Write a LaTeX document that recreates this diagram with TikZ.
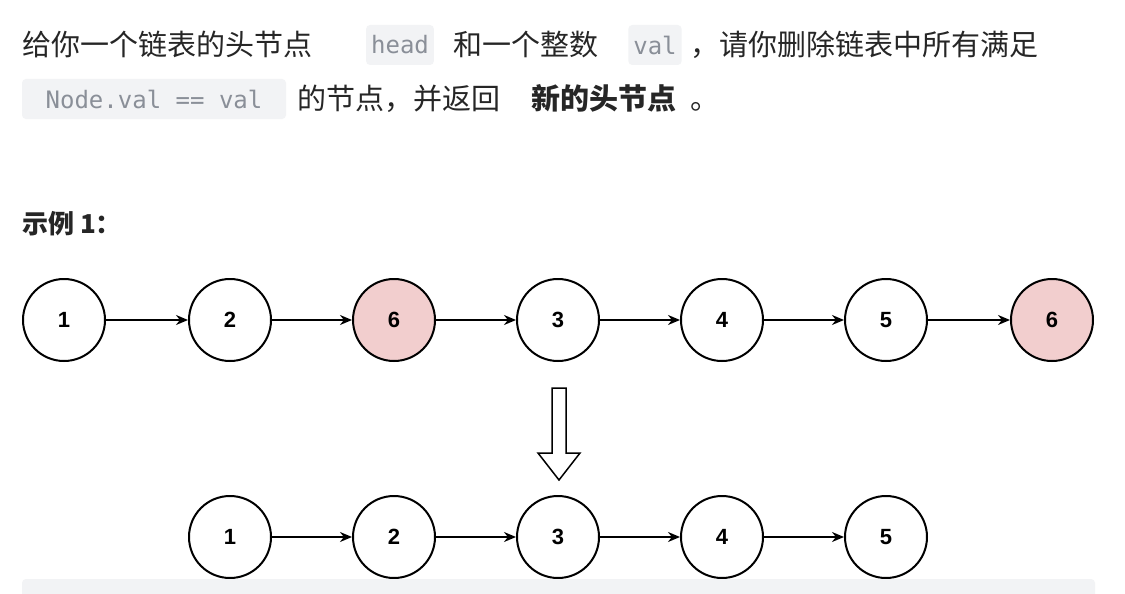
\documentclass[tikz,border=0pt]{standalone}
\usepackage{fontspec}
\setmainfont{Liberation Sans}
\newfontfamily\cjk{Noto Sans CJK SC}
\newfontfamily\codefont{DejaVu Sans Mono}
\usetikzlibrary{arrows.meta}
\definecolor{codebg}{HTML}{F2F3F5}
\definecolor{codefg}{HTML}{8A8F98}
\definecolor{hl}{HTML}{F2CECE}
\definecolor{txt}{HTML}{262626}
\begin{document}
\begin{tikzpicture}[x=1pt,y=-1pt,
  ll/.style={circle,draw=black,line width=2pt,minimum size=82pt,inner sep=0pt,font=\fontsize{22}{22}\selectfont\bfseries},
  red/.style={ll,fill=hl},
  lnk/.style={line width=1.6pt,-{Stealth[length=12pt,width=10pt]}},
  code/.style={fill=codebg,rounded corners=4pt,text=codefg,inner xsep=5pt,minimum height=40pt,font=\codefont\fontsize{24}{24}\selectfont},
  cn/.style={anchor=base west,inner sep=0pt,text=txt,font=\cjk\fontsize{29}{29}\selectfont}]
\useasboundingbox[fill=white] (0,0) rectangle (1125,594);
% text
\node[cn] (t1) at (22,56) {给你一个链表的头节点};
\node[code] (c1) at (400,45) {head};
\node[cn] (t2) at (453,56) {和一个整数};
\node[code] (c2) at (655,45) {val};
\node[cn] (t3) at (690,56) {，请你删除链表中所有满足};
\node[code,minimum width=264pt] (c3) at (154,99) {Node.val == val};
\node[cn] (t4) at (297,110) {的节点，并返回};
\node[cn,font=\cjk\bfseries\fontsize{29}{29}\selectfont] (t5) at (531,110) {新的头节点};
\node[cn] (t6) at (690,110) {。};
\node[cn,font=\cjk\bfseries\fontsize{26}{26}\selectfont] (ex) at (22,233) {示例 1：};
% top row
\node[ll] (a1) at (64,320) {1};
\node[ll] (a2) at (230,320) {2};
\node[red] (a3) at (394,320) {6};
\node[ll] (a4) at (558,320) {3};
\node[ll] (a5) at (722,320) {4};
\node[ll] (a6) at (886,320) {5};
\node[red] (a7) at (1052,320) {6};
\foreach \i/\j in {a1/a2,a2/a3,a3/a4,a4/a5,a5/a6,a6/a7} \draw[lnk] (\i) -- (\j);
% bottom row
\node[ll] (b1) at (230,537) {1};
\node[ll] (b2) at (394,537) {2};
\node[ll] (b3) at (558,537) {3};
\node[ll] (b4) at (722,537) {4};
\node[ll] (b5) at (886,537) {5};
\foreach \i/\j in {b1/b2,b2/b3,b3/b4,b4/b5} \draw[lnk] (\i) -- (\j);
% hollow arrow
\draw[line width=1.5pt,fill=white] (552,388) -- (566,388) -- (566,453) -- (580,453) -- (559,480) -- (538,453) -- (552,453) -- cycle;
% code block bg
\fill[codebg,rounded corners=4pt] (22,579) rectangle (1095,600);
\end{tikzpicture}
\end{document}
